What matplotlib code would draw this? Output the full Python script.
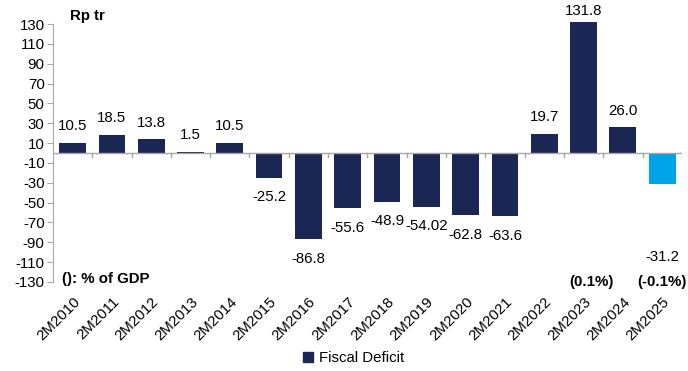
import matplotlib
matplotlib.use("Agg")
import matplotlib.pyplot as plt
from matplotlib.patches import Patch

plt.rcParams['font.family'] = ['Liberation Sans', 'DejaVu Sans']
plt.rcParams['axes.unicode_minus'] = False

periods = ['2M2010', '2M2011', '2M2012', '2M2013', '2M2014', '2M2015', '2M2016',
           '2M2017', '2M2018', '2M2019', '2M2020', '2M2021', '2M2022', '2M2023',
           '2M2024', '2M2025']
deficit = [10.5, 18.5, 13.8, 1.5, 10.5, -25.2, -86.8, -55.6, -48.9, -54.02,
           -62.8, -63.6, 19.7, 131.8, 26.0, -31.2]
value_text = ['10.5', '18.5', '13.8', '1.5', '10.5', '-25.2', '-86.8', '-55.6',
              '-48.9', '-54.02', '-62.8', '-63.6', '19.7', '131.8', '26.0', '-31.2']
gdp_share = {13: '(0.1%)', 15: '(-0.1%)'}
yticks = list(range(-130, 131, 20))

navy = '#1a2654'
light_blue = '#00a2e8'
grey = '#a6a6a6'
fs = 10.8

fig = plt.figure(figsize=(6.88, 3.71), dpi=100)
ax = fig.add_axes([0.077, 0.240, 0.914, 0.695])

x = list(range(len(periods)))
colors = [navy] * (len(periods) - 1) + [light_blue]
bars = ax.bar(x, deficit, width=0.68, color=colors, zorder=2)
for b in bars:
    b.set_clip_on(False)

# value labels; the tallest bar's label sits closer, the last one lower down
for i, (v, t) in enumerate(zip(deficit, value_text)):
    if i == len(periods) - 1:
        ax.text(i, -105, t, ha='center', va='center', fontsize=fs)
        continue
    if v >= 0:
        off = 8 if v > 100 else 12
    else:
        off = -14
    ax.annotate(t, (i, v), xytext=(0, off), textcoords='offset points',
                ha='center', va='center', fontsize=fs, annotation_clip=False)

for i, t in gdp_share.items():
    xi = i + 0.2 if i == 13 else i
    ax.text(xi, -130, t, ha='center', va='center', fontsize=fs,
            fontweight='bold')

ax.set_xlim(-0.5, len(periods) - 0.5)
ax.set_ylim(-130, 130)
ax.set_yticks(yticks)
ax.tick_params(axis='y', labelsize=fs, length=4, color=grey, pad=2)

# zero line with category separators
ax.axhline(0, color=grey, lw=1, zorder=3)
for b in range(1, len(periods)):
    ax.plot([b - 0.5, b - 0.5], [0, -4], color=grey, lw=1, zorder=3)

ax.set_xticks(x)
ax.set_xticklabels(periods, rotation=45, ha='right', rotation_mode='anchor',
                   fontsize=fs)
ax.tick_params(axis='x', length=0, pad=9)

for s in ['top', 'right', 'bottom']:
    ax.spines[s].set_visible(False)
ax.spines['left'].set_color(grey)

ax.text(0.027, 1.03, 'Rp tr', transform=ax.transAxes, fontsize=fs,
        fontweight='bold', va='center')
ax.text(0.015, 0.01, '(): % of GDP', transform=ax.transAxes, fontsize=fs,
        fontweight='bold', va='center')

fig.legend(handles=[Patch(color=navy, label='Fiscal Deficit')],
           loc='center', bbox_to_anchor=(0.514, 0.035), frameon=False,
           fontsize=fs, handlelength=0.7, handleheight=0.7, handletextpad=0.4)

fig.savefig('out.png', dpi=100)
